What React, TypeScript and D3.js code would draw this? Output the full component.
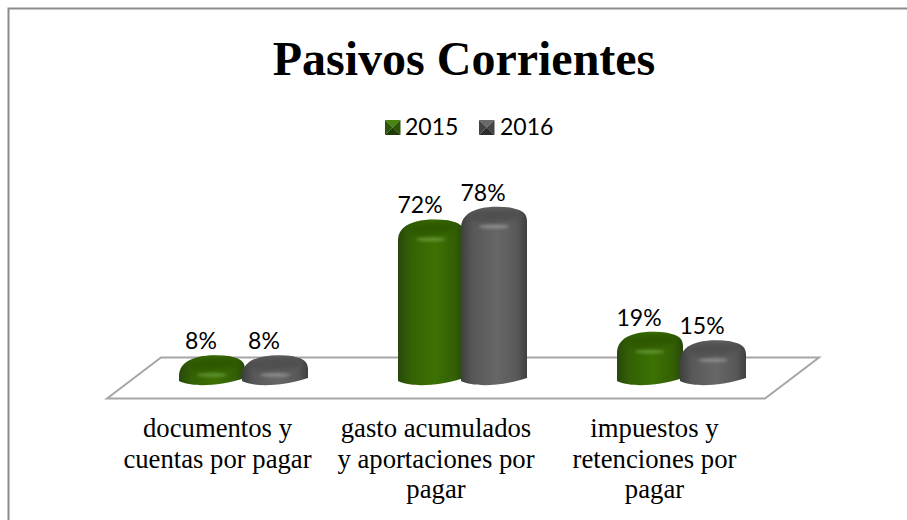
import React from "react";
import * as d3 from "d3";

const categories = ["documentos y cuentas por pagar", "gasto acumulados y aportaciones por pagar", "impuestos y retenciones por pagar"];
const categoryLines = [["documentos y", "cuentas por pagar"], ["gasto acumulados", "y aportaciones por", "pagar"], ["impuestos y", "retenciones por", "pagar"]];
const seriesNames = ["2015", "2016"];
const values2015 = [8, 72, 19];
const values2016 = [8, 78, 15];
const tones = {
  "2015": { edge: "#27480a", side: "#336005", mid: "#3c7203", top: "#2d5806", glow: "#6a9a3e", l: "#4a8410", d: "#1e3a06", c: "#2c5606" },
  "2016": { edge: "#3f3f3f", side: "#585858", mid: "#676767", top: "#4f4f4f", glow: "#959595", l: "#6a6a6a", d: "#2c2c2c", c: "#444444" },
};

const W = 907, H = 520;
const x0 = d3.scaleBand().domain(categories).range([134, 791]);
const x1 = d3.scaleBand().domain(seriesNames).range([-63, 63]);
const xLabel = d3.scalePoint().domain(categories).range([217.5, 654.5]);
const y = d3.scaleLinear().domain([0, 100]).range([372, 160]);
const BASE = 386;
const barW = 66;

function bodyPath(l: number, top: number) {
  const r = l + barW;
  return `M${l},${BASE - 5}
    C${l + 12},${BASE + 1} ${r - 28},${BASE + 1} ${r},${BASE - 8}
    L${r},${top + 14}
    C${r},${top + 4} ${r - 9},${top + 3} ${r - 16},${top + 1}
    C${r - 32},${top - 1} ${l + 14},${top} ${l + 5},${top + 9}
    C${l + 1},${top + 13} ${l},${top + 17} ${l},${top + 22} Z`;
}

function Bar({ s, cat, v, id }: { s: string; cat: string; v: number; id: string }) {
  const c = x0(cat)! + x0.bandwidth() / 2;
  const l = c + x1(s)! + (x1.bandwidth() - barW) / 2;
  const top = y(v);
  const t = tones[s as keyof typeof tones];
  const m = l + barW / 2;
  const d = bodyPath(l, top);
  return (
    <g>
      <clipPath id={id}><path d={d} /></clipPath>
      <path d={d} fill={`url(#body${s})`} />
      <g clipPath={`url(#${id})`}>
        <ellipse cx={m} cy={top + 9} rx={27} ry={7} fill={t.top} filter="url(#soft)" transform={`rotate(-3 ${m} ${top + 9})`} />
        <ellipse cx={m} cy={top + 20} rx={15} ry={1.8} fill={t.glow} opacity={0.85} filter="url(#soft2)" />
      </g>
      <text x={m - 11} y={top - 6} textAnchor="middle" fontFamily="Lato, sans-serif" fontSize={23} fill="#000">{v}%</text>
    </g>
  );
}

function Swatch({ x, s }: { x: number; s: string }) {
  const t = tones[s as keyof typeof tones];
  const a = 120, b = 135, r = x + 15.5, cx = x + 7.75, cy = 127.5;
  const p = (pts: number[][], fill: string) => <polygon points={pts.map(q => q.join(",")).join(" ")} fill={fill} />;
  return (
    <g>
      {p([[x, a], [r, a], [cx, cy]], t.l)}
      {p([[r, a], [r, b], [cx, cy]], t.c)}
      {p([[x, b], [r, b], [cx, cy]], t.d)}
      {p([[x, a], [x, b], [cx, cy]], t.c)}
    </g>
  );
}

export default function App() {
  return (
    <svg width={W} height={H} style={{ position: "absolute", left: 0, top: 0, background: "#fff" }}>
      <defs>
        {seriesNames.map(s => {
          const t = tones[s as keyof typeof tones];
          return (
            <linearGradient key={s} id={`body${s}`} x1="0" x2="1" y1="0" y2="0">
              <stop offset="0" stopColor={t.edge} />
              <stop offset="0.18" stopColor={t.side} />
              <stop offset="0.55" stopColor={t.mid} />
              <stop offset="0.85" stopColor={t.side} />
              <stop offset="1" stopColor={t.edge} />
            </linearGradient>
          );
        })}
        <filter id="soft" x="-30%" y="-50%" width="160%" height="200%"><feGaussianBlur stdDeviation="2.5" /></filter>
        <filter id="soft2" x="-50%" y="-300%" width="200%" height="700%"><feGaussianBlur stdDeviation="1.8" /></filter>
      </defs>

      <path d={`M8.5,${H} V8.5 H${W}`} fill="none" stroke="#8c8c8c" strokeWidth={2} />

      <text x={464} y={75} textAnchor="middle" fontFamily="'Liberation Serif', serif" fontWeight="bold" fontSize={48} fill="#000">Pasivos Corrientes</text>

      <Swatch x={385} s="2015" />
      <text x={405} y={135} fontFamily="Lato, sans-serif" fontSize={23} fill="#000">2015</text>
      <Swatch x={479} s="2016" />
      <text x={500} y={135} fontFamily="Lato, sans-serif" fontSize={23} fill="#000">2016</text>

      <polygon points="107,398.5 161,357.5 819,357.5 765,398.5" fill="none" stroke="#a6a6a6" strokeWidth={2} />

      {categories.map((cat, i) => (
        <g key={cat}>
          <Bar s="2015" cat={cat} v={values2015[i]} id={`c15-${i}`} />
          <Bar s="2016" cat={cat} v={values2016[i]} id={`c16-${i}`} />
        </g>
      ))}

      {categoryLines.map((lines, i) => (
        <text key={i} textAnchor="middle" fontFamily="'Liberation Serif', serif" fontSize={26.7} fill="#000">
          {lines.map((ln, j) => (
            <tspan key={j} x={xLabel(categories[i])} y={437 + j * 30.5}>{ln}</tspan>
          ))}
        </text>
      ))}
    </svg>
  );
}
